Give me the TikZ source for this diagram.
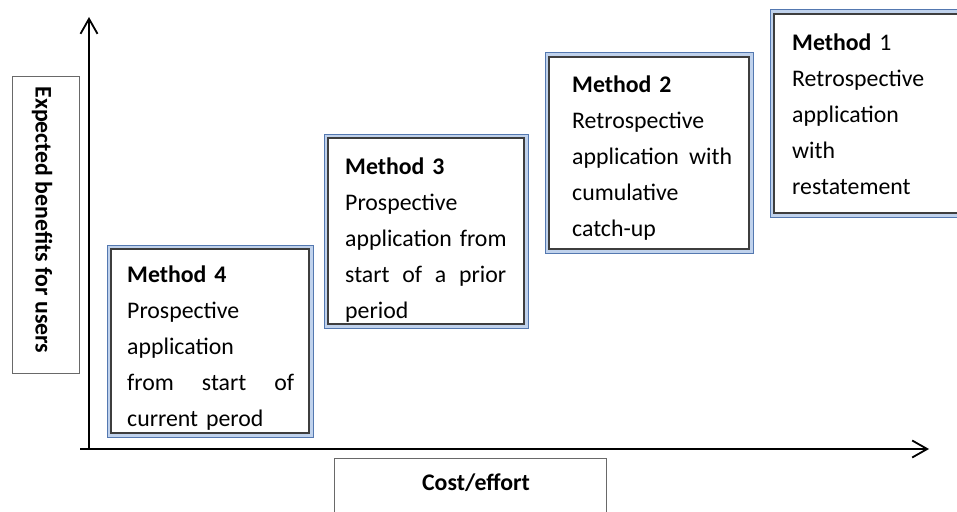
\documentclass[tikz,border=0pt]{standalone}
\usepackage{fontspec}
\setmainfont{Carlito}
\usetikzlibrary{calc,arrows.meta}
\definecolor{edgeblue}{RGB}{84,120,176}
\definecolor{bandblue}{RGB}{192,210,236}
\definecolor{innergray}{RGB}{62,62,62}
\definecolor{labelgray}{RGB}{105,105,105}
\tikzset{
  methodbox/.style={fill=bandblue, draw=edgeblue, line width=1pt, inner sep=0pt},
  innerline/.style={draw=innergray, fill=white, line width=1.1pt},
  methodtext/.style={anchor=base west, inner sep=0pt, align=left,
     font=\fontsize{23.8}{36}\selectfont},
  labelfont/.style={font=\fontsize{23.8}{28}\selectfont\bfseries},
  labelbox/.style={draw=labelgray, line width=0.9pt, inner sep=0pt, labelfont},
  axis/.style={line width=1.8pt, -{Straight Barb[length=15pt,width=17pt,line width=1.8pt]}}
}
\begin{document}
\begin{tikzpicture}[x=1pt,y=-1pt]
\clip (0,0) rectangle (957,511);
\fill[white] (0,0) rectangle (957,511);

% axes
\coordinate (origin) at (89,449);
\coordinate (ytip) at (89,17);
\coordinate (xstart) at (80,449);
\coordinate (xtip) at (929,449);
\draw[axis] (origin) -- (ytip);
\draw[axis] (xstart) -- (xtip);

% axis labels
\node[labelbox, rotate=-90, minimum width=297pt, minimum height=67pt] (ylab) at (45.5,224.5) {};
\node[labelfont, rotate=-90, inner sep=0pt] (ylabtext) at (42,220) {Expected benefits for users};
\node[labelbox, minimum width=272pt, minimum height=54pt] (xlab) at (470,485) {};
\node[labelfont, inner sep=0pt] (xlabtext) at (476,483) {Cost/effort};

% Method 4
\node[methodbox, minimum width=206pt, minimum height=192pt] (m4) at (210,341) {};
\draw[innerline] ($(m4.north west)+(4.5,4.5)$) rectangle ($(m4.south east)+(-4.5,-4.5)$);
\begin{scope}
\clip ($(m4.north west)+(5.2,5.2)$) rectangle ($(m4.south east)+(-5.2,-5.2)$);
\node[methodtext, text width=167pt] (t4) at (127,282) {\textbf{Method 4}\\Prospective\\application\\from\hfill start\hfill of\\current perod};
\end{scope}

% Method 3
\node[methodbox, minimum width=204pt, minimum height=194pt] (m3) at (426,231) {};
\draw[innerline] ($(m3.north west)+(4.5,4.5)$) rectangle ($(m3.south east)+(-4.5,-4.5)$);
\begin{scope}
\clip ($(m3.north west)+(5.2,5.2)$) rectangle ($(m3.south east)+(-5.2,-5.2)$);
\node[methodtext, text width=161pt] (t3) at (345,174) {\textbf{Method 3}\\Prospective\\\mbox{application from}\\start\hfill of\hfill a\hfill prior\\period};
\end{scope}

% Method 2
\node[methodbox, minimum width=208pt, minimum height=200pt] (m2) at (649,153) {};
\draw[innerline] ($(m2.north west)+(4.5,4.5)$) rectangle ($(m2.south east)+(-4.5,-4.5)$);
\begin{scope}
\clip ($(m2.north west)+(5.2,5.2)$) rectangle ($(m2.south east)+(-5.2,-5.2)$);
\node[methodtext, text width=160pt] (t2) at (572,92) {\textbf{Method 2}\\Retrospective\\application\hfill with\\cumulative\\catch-up};
\end{scope}

% Method 1
\node[methodbox, minimum width=206pt, minimum height=207pt] (m1) at (873,113.5) {};
\draw[innerline] ($(m1.north west)+(4.5,4.5)$) rectangle ($(m1.south east)+(-4.5,-4.5)$);
\begin{scope}
\clip ($(m1.north west)+(5.2,5.2)$) rectangle ($(m1.south east)+(-5.2,-5.2)$);
\node[methodtext, text width=160pt] (t1) at (792,50) {\textbf{Method} 1\\Retrospective\\application\\with\\restatement};
\end{scope}
\end{tikzpicture}
\end{document}
